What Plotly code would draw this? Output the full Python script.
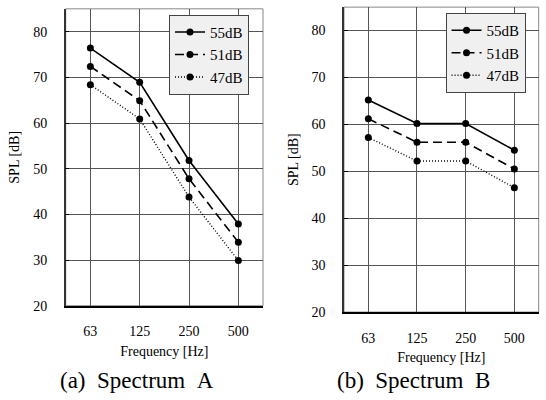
import plotly.graph_objects as go

freqs = ["63", "125", "250", "500"]
series_names = ["55dB", "51dB", "47dB"]
spec_a = {
    "55dB": [76.4, 68.9, 51.8, 37.9],
    "51dB": [72.4, 64.9, 47.8, 33.9],
    "47dB": [68.4, 60.9, 43.8, 29.9],
}
spec_b = {
    "55dB": [65.2, 60.2, 60.2, 54.5],
    "51dB": [61.2, 56.2, 56.2, 50.5],
    "47dB": [57.2, 52.2, 52.2, 46.5],
}
y_ticks = [20, 30, 40, 50, 60, 70, 80]
captions = ["(a)\u00a0\u00a0Spectrum\u00a0\u00a0A", "(b)\u00a0\u00a0Spectrum\u00a0\u00a0B"]

FONT = "Liberation Serif"
dashes = {"55dB": "solid", "51dB": "9px,5px", "47dB": "1px,2px"}
widths = {"55dB": 1.6, "51dB": 1.6, "47dB": 1.4}

fig = go.Figure()
for panel, (data, xa, ya, lg) in enumerate([(spec_a, "x", "y", "legend"), (spec_b, "x2", "y2", "legend2")]):
    for name in series_names:
        fig.add_trace(go.Scatter(
            x=freqs, y=data[name], name=name, mode="lines+markers",
            xaxis=xa, yaxis=ya, legend=lg,
            line=dict(color="black", width=widths[name], dash=dashes[name]),
            marker=dict(color="black", size=7, symbol="circle"),
        ))

axis_common_x = dict(
    type="category", range=[-0.5, 3.5], showgrid=True, gridcolor="#555", gridwidth=1,
    tickfont=dict(family=FONT, size=14, color="black"),
    ticks="", showline=True, linecolor="black", linewidth=1.5, mirror=False,
    title=dict(text="Frequency [Hz]", font=dict(family=FONT, size=14, color="black"), standoff=8),
    ticklabelstandoff=12, zeroline=False,
)
axis_common_y = dict(
    range=[20, 85], tickvals=y_ticks, showgrid=True, gridcolor="#555", gridwidth=1,
    tickfont=dict(family=FONT, size=14, color="black"),
    ticks="inside", ticklen=4, tickcolor="black",
    showline=True, linecolor="#333", linewidth=1.5,
    title=dict(text="SPL [dB]", font=dict(family=FONT, size=14, color="black"), standoff=10),
    ticklabelstandoff=14, zeroline=False,
)

fig.update_layout(
    width=546, height=400, margin=dict(l=0, r=0, t=0, b=0),
    paper_bgcolor="white", plot_bgcolor="white",
    font=dict(family=FONT, color="black"),
    xaxis=dict(domain=[0.1203, 0.4817], anchor="y", **axis_common_x),
    yaxis=dict(domain=[0.22, 0.9775], anchor="x", **axis_common_y),
    xaxis2=dict(domain=[0.630, 0.9866], anchor="y2", **axis_common_x),
    yaxis2=dict(domain=[0.204, 0.9818], anchor="x2", **axis_common_y),
    legend=dict(x=0.3095, y=0.9625, xanchor="left", yanchor="top",
                bgcolor="#f0f0f0", bordercolor="#444", borderwidth=1,
                font=dict(family=FONT, size=15, color="black"), tracegroupgap=0, itemwidth=30),
    legend2=dict(x=0.816, y=0.967, xanchor="left", yanchor="top",
                 bgcolor="#f0f0f0", bordercolor="#444", borderwidth=1,
                 font=dict(family=FONT, size=15, color="black"), tracegroupgap=0, itemwidth=30),
    showlegend=True,
)

for xa, ya in [("x", "y"), ("x2", "y2")]:
    fig.add_shape(type="rect", xref=f"{xa} domain", yref=f"{ya} domain", x0=0, x1=1, y0=0, y1=1,
                  line=dict(color="#888", width=1), layer="below")

fig.add_annotation(text=captions[0], x=136.7 / 546, y=1 - 388 / 400, xref="paper", yref="paper",
                   xanchor="center", yanchor="middle",
                   showarrow=False, font=dict(family=FONT, size=23, color="black"))
fig.add_annotation(text=captions[1], x=413 / 546, y=1 - 388 / 400, xref="paper", yref="paper",
                   xanchor="center", yanchor="middle",
                   showarrow=False, font=dict(family=FONT, size=23, color="black"))

fig.write_html("out.html")
